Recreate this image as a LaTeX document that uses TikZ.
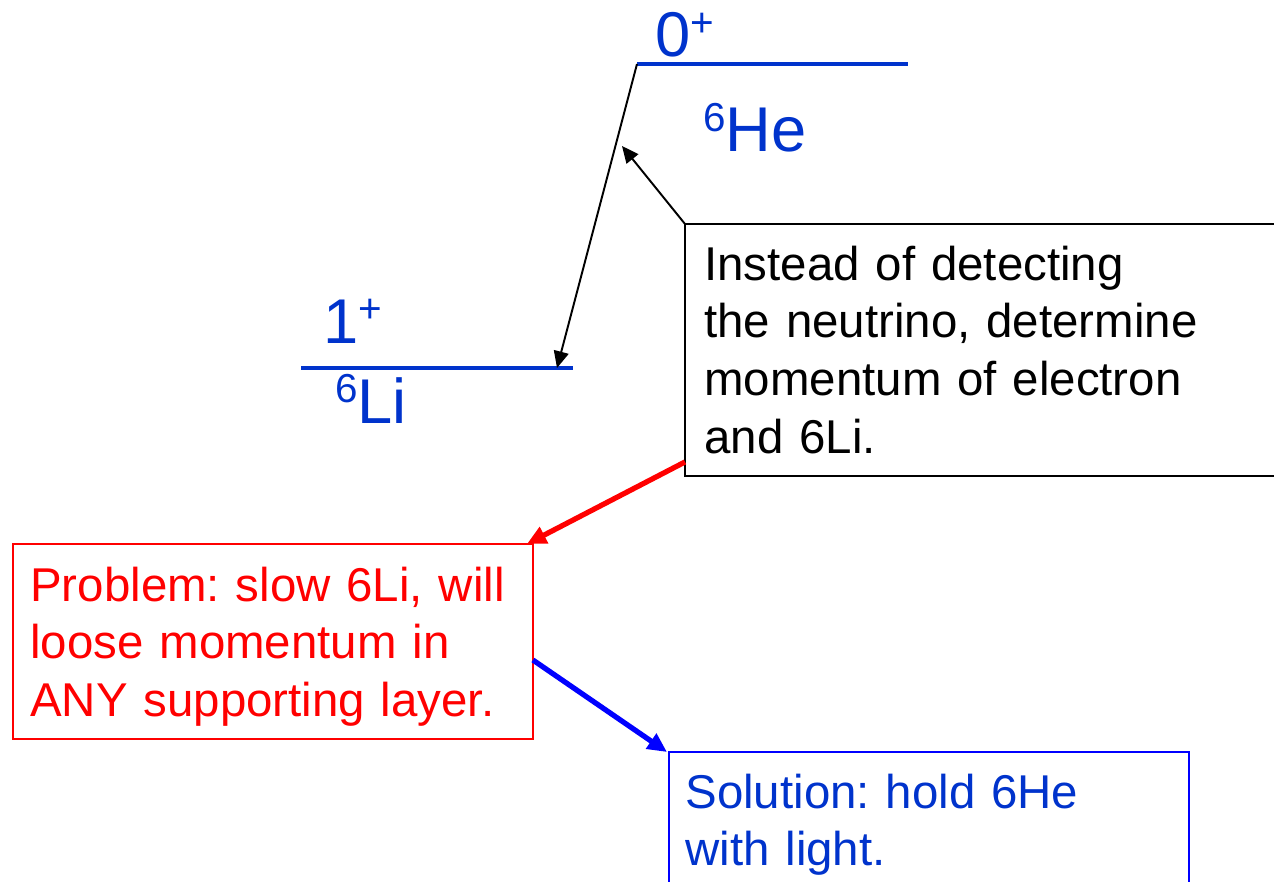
\documentclass[tikz,border=0pt]{standalone}
\usepackage{fontspec}
\setmainfont{Liberation Sans}
\usepackage{xcolor}
\usetikzlibrary{positioning,calc,arrows.meta}

\definecolor{lvlblue}{RGB}{0,51,204}
\definecolor{boxblue}{RGB}{0,0,255}
\definecolor{boxred}{RGB}{255,0,0}

\newcommand{\upidx}[1]{\raisebox{11.4pt}{\fontsize{23}{23}\selectfont #1}}

\begin{document}
\frenchspacing
\begin{tikzpicture}[x=0.02cm, y=-0.02cm,
  level/.style={draw=lvlblue, line width=1.9pt},
  lvllabel/.style={text=lvlblue, font=\fontsize{36}{36}\selectfont, inner sep=0pt, anchor=base west},
  frame/.style={draw=#1, line width=1.3pt, inner sep=0pt, outer sep=0pt, anchor=north west},
  note/.style={text=#1, font=\fontsize{27}{33}\selectfont, text width=11.5cm, align=left, inner sep=0pt, anchor=base west},
  thin/.style={draw=black, line width=1.1pt, -{Triangle[length=9.5pt, width=8.5pt]}},
  fat/.style={draw=#1, line width=3pt, -{Triangle[length=11pt, width=10pt]}}]
  \useasboundingbox (0,0) rectangle (1274,882);
  \clip (0,0) rectangle (1274,882);

  % Levels
  \coordinate (he-l) at (637,64);
  \coordinate (he-r) at (908,64);
  \coordinate (li-l) at (301,368);
  \coordinate (li-r) at (573,368);
  \draw[level] (he-l) -- (he-r);
  \draw[level] (li-l) -- (li-r);
  \node[lvllabel] (he-spin) at (655,57) {0\upidx{+}};
  \node[lvllabel] (he-name) at (703,152) {\upidx{6}He};
  \node[lvllabel] (li-spin) at (323,343) {1\upidx{+}};
  \node[lvllabel] (li-name) at (335,423) {\upidx{6}Li};

  % Decay
  \coordinate (li-hit) at (557,368);
  \draw[thin] (he-l) -- (li-hit);

  % Boxes
  \node[frame=black, minimum width=12.3cm, minimum height=5.04cm] (info) at (685,224) {};
  \node[frame=boxred, minimum width=10.4cm, minimum height=3.9cm] (prob) at (13,544) {};
  \node[frame=boxblue, minimum width=10.4cm, minimum height=4cm] (sol) at (669,752) {};
  \node[note=black] (info-txt) at ($(info.north west)+(19,56)$) {Instead of detecting\\the neutrino, determine\\momentum of electron\\and 6Li.};
  \node[note=boxred] (prob-txt) at ($(prob.north west)+(17,57)$) {Problem: slow 6Li, will\\loose momentum in\\ANY supporting layer.};
  \node[note=lvlblue] (sol-txt) at ($(sol.north west)+(16,56)$) {Solution: hold 6He\\with light.};

  % Pointers
  \coordinate (ptr) at (622,146);
  \draw[thin] (info.north west) -- (ptr);
  \draw[fat=boxred] ($(info.south west)+(0,-14)$) -- ($(prob.north east)+(-6,0)$);
  \draw[fat=boxblue] ($(prob.north east)+(0,116)$) -- ($(sol.north west)+(-2,0)$);
\end{tikzpicture}
\end{document}
